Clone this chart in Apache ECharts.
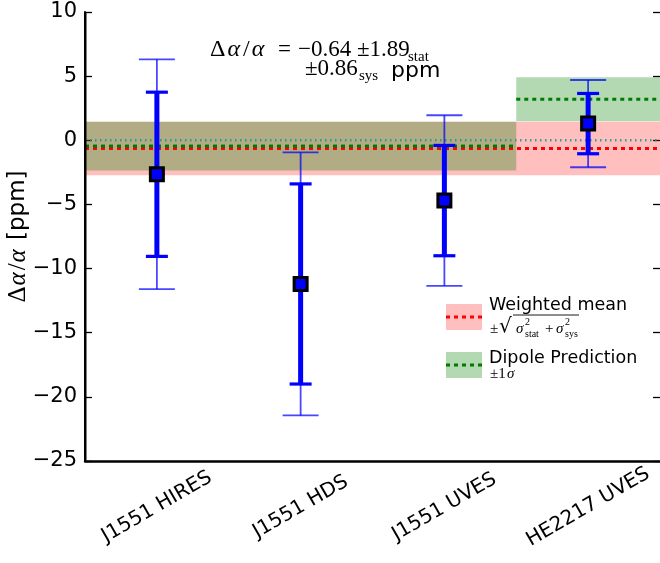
<!DOCTYPE html>
<html><head><meta charset="utf-8">
<script src="https://cdn.jsdelivr.net/npm/echarts@6/dist/echarts.min.js"></script>
<style>html,body{margin:0;padding:0;background:#fff}#c{width:660px;height:563px}</style>
</head><body><div id="c"></div>
<script>
// ---- data ----
const categories = ['J1551 HIRES', 'J1551 HDS', 'J1551 UVES', 'HE2217 UVES'];
const values = [-2.65, -11.2, -4.7, 1.3];
const statErr = [6.4, 7.8, 4.3, 2.35];
const totalErr = [8.95, 10.25, 6.65, 3.4];
const weightedMean = -0.64;
const weightedMeanErr = 2.08; // sqrt(1.89^2 + 0.86^2)
const dipoleFrom = [0, 3];   // category index ranges
const dipoleTo = [2, 3];
const dipoleValue = [-0.45, 3.2];
const dipoleErr = [1.9, 1.72];
const zeroLine = 0;
const yMin = -25, yMax = 10, yStep = 5;

// ---- derived ----
const nCat = categories.length;
const bandData = [
  { value: [0, nCat - 1, weightedMean - weightedMeanErr, weightedMean + weightedMeanErr], kind: 'wm' }
];
dipoleFrom.forEach((f, i) => {
  bandData.push({ value: [f, dipoleTo[i], dipoleValue[i] - dipoleErr[i], dipoleValue[i] + dipoleErr[i]], kind: 'dp' });
});
const lineData = [
  { value: [0, nCat - 1, zeroLine], kind: 'zero' },
  { value: [0, nCat - 1, weightedMean], kind: 'wm' }
];
dipoleFrom.forEach((f, i) => {
  lineData.push({ value: [f, dipoleTo[i], dipoleValue[i]], kind: 'dp' });
});
const errData = values.map((v, i) => [i, v, v - statErr[i], v + statErr[i], v - totalErr[i], v + totalErr[i]]);

const bandFill = { wm: 'rgba(255,0,0,0.25)', dp: 'rgba(0,128,0,0.3)' };
const lineStyles = {
  zero: { stroke: 'rgba(30,150,150,0.9)', lineWidth: 2.5, lineDash: [1.5, 3.5] },
  wm: { stroke: '#ff0000', lineWidth: 3, lineDash: [4, 4] },
  dp: { stroke: '#007a00', lineWidth: 3, lineDash: [4, 4] }
};

const chart = echarts.init(document.getElementById('c'), null, { renderer: 'canvas' });

const serif = 'Liberation Serif';
const sans = 'DejaVu Sans';

function txt(x, y, text, font, size, italic) {
  return { type: 'text', z: 11, x: x, y: y, style: { text: text, fontFamily: font, fontSize: size,
    fontStyle: italic ? 'italic' : 'normal', fill: '#000', verticalAlign: 'middle' } };
}

// horizontal span of a category range [from, to] in pixels
function span(api, from, to) {
  const half = api.size([1, 0])[0] / 2;
  return [api.coord([from, 0])[0] - half, api.coord([to, 0])[0] + half];
}

const option = {
  animation: false,
  backgroundColor: '#ffffff',
  grid: { left: 85, right: 0, top: 12, bottom: 102, outerBoundsMode: 'none' },
  xAxis: {
    type: 'category', data: categories, boundaryGap: true,
    axisLine: { onZero: false, lineStyle: { color: '#000', width: 2.5 } },
    axisTick: { inside: true, alignWithLabel: true, length: 7, lineStyle: { color: '#000', width: 1.3 } },
    axisLabel: { interval: 0, rotate: 30, align: 'center', verticalAlign: 'middle', margin: 46,
      fontSize: 20, fontFamily: sans, color: '#000' },
    splitLine: { show: false }
  },
  yAxis: [
    {
      type: 'value', min: yMin, max: yMax, interval: yStep, position: 'left',
      axisLine: { show: true, onZero: false, lineStyle: { color: '#000', width: 2 } },
      axisTick: { show: true, inside: true, length: 7, lineStyle: { color: '#000', width: 1.3 } },
      axisLabel: { fontSize: 21, fontFamily: sans, color: '#000', margin: 8,
        formatter: v => String(v).replace('-', '\u2212') },
      splitLine: { show: false },
      name: '{d|Δ}{a|α}{d|/}{a|α}{p| [ppm]}',
      nameLocation: 'middle', nameGap: 54, nameMoveOverlap: false,
      nameTextStyle: { rich: {
        d: { fontFamily: serif, fontSize: 25, color: '#000' },
        a: { fontFamily: serif, fontStyle: 'italic', fontSize: 25, color: '#000', padding: [0, 2, 0, 1] },
        p: { fontFamily: sans, fontSize: 23, color: '#000' }
      } }
    },
    {
      type: 'value', min: yMin, max: yMax, interval: yStep, position: 'right',
      axisLine: { show: false, onZero: false },
      axisTick: { show: true, inside: true, length: 7, lineStyle: { color: '#000', width: 1.3 } },
      axisLabel: { show: false },
      splitLine: { show: false }
    }
  ],
  series: [
    {
      type: 'custom', z: 1, silent: true,
      data: bandData,
      renderItem: (params, api) => {
        const item = bandData[params.dataIndex];
        const xs = span(api, api.value(0), api.value(1));
        const yTop = api.coord([0, api.value(3)])[1];
        const yBot = api.coord([0, api.value(2)])[1];
        return { type: 'rect', shape: { x: xs[0], y: yTop, width: xs[1] - xs[0], height: yBot - yTop },
          style: { fill: bandFill[item.kind] } };
      }
    },
    {
      type: 'custom', z: 2, silent: true,
      data: lineData,
      renderItem: (params, api) => {
        const item = lineData[params.dataIndex];
        const xs = span(api, api.value(0), api.value(1));
        const y = api.coord([0, api.value(2)])[1];
        const s = lineStyles[item.kind];
        return { type: 'line', shape: { x1: xs[0], y1: y, x2: xs[1], y2: y },
          style: { stroke: s.stroke, lineWidth: s.lineWidth, lineDash: s.lineDash, fill: null } };
      }
    },
    {
      type: 'custom', z: 3, silent: true,
      data: errData,
      renderItem: (params, api) => {
        const x = api.value(0);
        const sLo = api.coord([x, api.value(2)]);
        const sHi = api.coord([x, api.value(3)]);
        const tLo = api.coord([x, api.value(4)]);
        const tHi = api.coord([x, api.value(5)]);
        const cx = sLo[0];
        const thin = { stroke: 'rgba(0,0,255,0.72)', lineWidth: 1.8 };
        const thick = { stroke: '#0000ff', lineWidth: 5 };
        const cap = { stroke: '#0000ff', lineWidth: 3.2 };
        const tc = 18, sc = 11;
        return { type: 'group', children: [
          { type: 'line', shape: { x1: cx, y1: tLo[1], x2: cx, y2: tHi[1] }, style: thin },
          { type: 'line', shape: { x1: cx - tc, y1: tLo[1], x2: cx + tc, y2: tLo[1] }, style: thin },
          { type: 'line', shape: { x1: cx - tc, y1: tHi[1], x2: cx + tc, y2: tHi[1] }, style: thin },
          { type: 'line', shape: { x1: cx, y1: sLo[1], x2: cx, y2: sHi[1] }, style: thick },
          { type: 'line', shape: { x1: cx - sc, y1: sLo[1], x2: cx + sc, y2: sLo[1] }, style: cap },
          { type: 'line', shape: { x1: cx - sc, y1: sHi[1], x2: cx + sc, y2: sHi[1] }, style: cap }
        ] };
      }
    },
    {
      type: 'scatter', z: 4, silent: true,
      data: values,
      symbol: 'rect', symbolSize: 13,
      itemStyle: { color: '#0000ff', borderColor: '#000', borderWidth: 3, opacity: 1 }
    }
  ],
  graphic: [
    // left spine of the plot frame
    { type: 'rect', z: 30, shape: { x: 84, y: 12, width: 2.5, height: 450 }, style: { fill: '#000' } },
    // annotation line 1
    { type: 'text', z: 11, x: 210, y: 50, style: {
      text: '{d|Δ}{a|α}{s|/}{a|α}', verticalAlign: 'middle',
      rich: {
        d: { fontFamily: serif, fontSize: 24, fill: '#000', padding: [0, 1, 0, 0] },
        s: { fontFamily: serif, fontSize: 24, fill: '#000', padding: [0, 1, 0, 1] },
        a: { fontFamily: serif, fontStyle: 'italic', fontSize: 24, fill: '#000', padding: [0, 2, 0, 1] }
      } } },
    txt(278, 50, '=', serif, 23),
    txt(298, 50, '−0.64', serif, 23),
    txt(357, 50, '±1.89', serif, 23),
    txt(408, 57, 'stat', serif, 15),
    // annotation line 2
    txt(305, 69, '±0.86', serif, 23),
    txt(359, 76, 'sys', serif, 15),
    txt(391, 71, 'ppm', sans, 22),
    // legend: weighted mean
    { type: 'rect', z: 10, shape: { x: 446, y: 304, width: 36, height: 26 }, style: { fill: 'rgba(255,0,0,0.25)' } },
    { type: 'line', z: 11, shape: { x1: 446, y1: 317, x2: 482, y2: 317 }, style: { stroke: '#ff0000', lineWidth: 3, lineDash: [4, 4] } },
    txt(489, 305, 'Weighted mean', sans, 17.5),
    txt(490, 329, '±', serif, 15),
    txt(499, 327, '√', 'DejaVu Serif', 20),
    { type: 'line', z: 11, shape: { x1: 513, y1: 315, x2: 579, y2: 315 }, style: { stroke: '#000', lineWidth: 0.9 } },
    txt(516, 329, 'σ', serif, 15, true),
    txt(525, 322, '2', serif, 10),
    txt(525, 334, 'stat', serif, 10),
    txt(545, 329, '+', serif, 15),
    txt(556, 329, 'σ', serif, 15, true),
    txt(565, 322, '2', serif, 10),
    txt(565, 334, 'sys', serif, 10),
    // legend: dipole prediction
    { type: 'rect', z: 10, shape: { x: 446, y: 352, width: 36, height: 26 }, style: { fill: 'rgba(0,128,0,0.3)' } },
    { type: 'line', z: 11, shape: { x1: 446, y1: 365, x2: 482, y2: 365 }, style: { stroke: '#007a00', lineWidth: 3, lineDash: [4, 4] } },
    txt(489, 358, 'Dipole Prediction', sans, 17.5),
    txt(490, 374, '±1', serif, 15),
    txt(507, 374, 'σ', serif, 15, true)
  ]
};
chart.setOption(option);
</script>
</body></html>
